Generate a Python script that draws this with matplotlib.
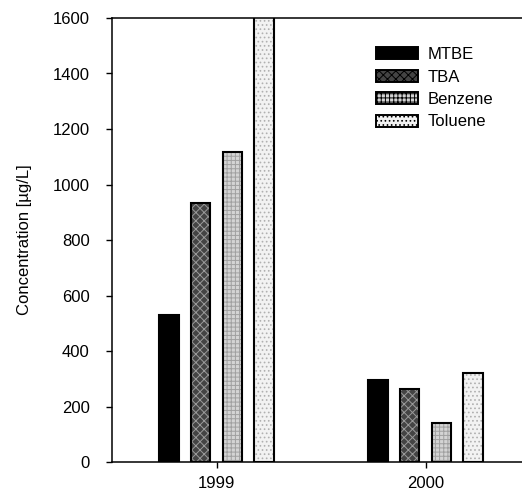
import numpy as np
import matplotlib
matplotlib.use('Agg')
import matplotlib.pyplot as plt
from matplotlib.patches import Patch

years = ['1999', '2000']
compounds = ['MTBE', 'TBA', 'Benzene', 'Toluene']
mtbe = [530, 295]
tba = [932, 262]
benzene = [1118, 142]
toluene = [1650, 322]

plt.rcParams['font.family'] = ['Liberation Sans', 'DejaVu Sans']
plt.rcParams['hatch.linewidth'] = 0.7

fig = plt.figure(figsize=(5.22, 4.9), dpi=100)
ax = fig.add_axes([112/522, 28/490, (530-112)/522, (462-18)/490])

x = np.arange(len(years))
width = 0.093
step = 0.151
# facecolor, hatch, hatch colour
styles = [
    ('black', None, 'black'),
    ('#444444', 'xxxx', '#9a9a9a'),
    ('#d4d4d4', '++++', '#a0a0a0'),
    ('#f2f2f2', '....', '#b0b0b0'),
]
series = [mtbe, tba, benzene, toluene]
handles = []
for i, (vals, name, st) in enumerate(zip(series, compounds, styles)):
    fc, hatch, hc = st
    pos = x + (i - 1.5) * step
    # fill + hatch first, then a black outline on top
    ax.bar(pos, vals, width, facecolor=fc, hatch=hatch, edgecolor=hc, linewidth=0)
    ax.bar(pos, vals, width, fill=False, edgecolor='black', linewidth=1.5)
    handles.append(Patch(facecolor=fc, hatch=hatch, edgecolor='black', linewidth=1.4, label=name))

ax.set_xlim(-0.5, 1.5)
ax.set_ylim(0, 1600)
ax.set_yticks(range(0, 1601, 200))
ax.set_xticks(x)
ax.set_xticklabels(years)
ax.tick_params(labelsize=12, length=4, width=1, direction='out')
ax.tick_params(axis='y', pad=12)
ax.tick_params(axis='x', pad=6)
ax.spines['right'].set_visible(False)
for s in ['left', 'top', 'bottom']:
    ax.spines[s].set_linewidth(1.1)
ax.set_ylabel('Concentration [µg/L]', fontsize=12, labelpad=15)

leg = ax.legend(handles=handles, loc='upper left', bbox_to_anchor=(376/522, 1 - 47/490),
                bbox_transform=fig.transFigure, frameon=False, fontsize=12,
                handlelength=2.5, handleheight=0.75, handletextpad=0.6,
                labelspacing=0.45, borderpad=0, borderaxespad=0)

fig.savefig('out.png', dpi=100)
